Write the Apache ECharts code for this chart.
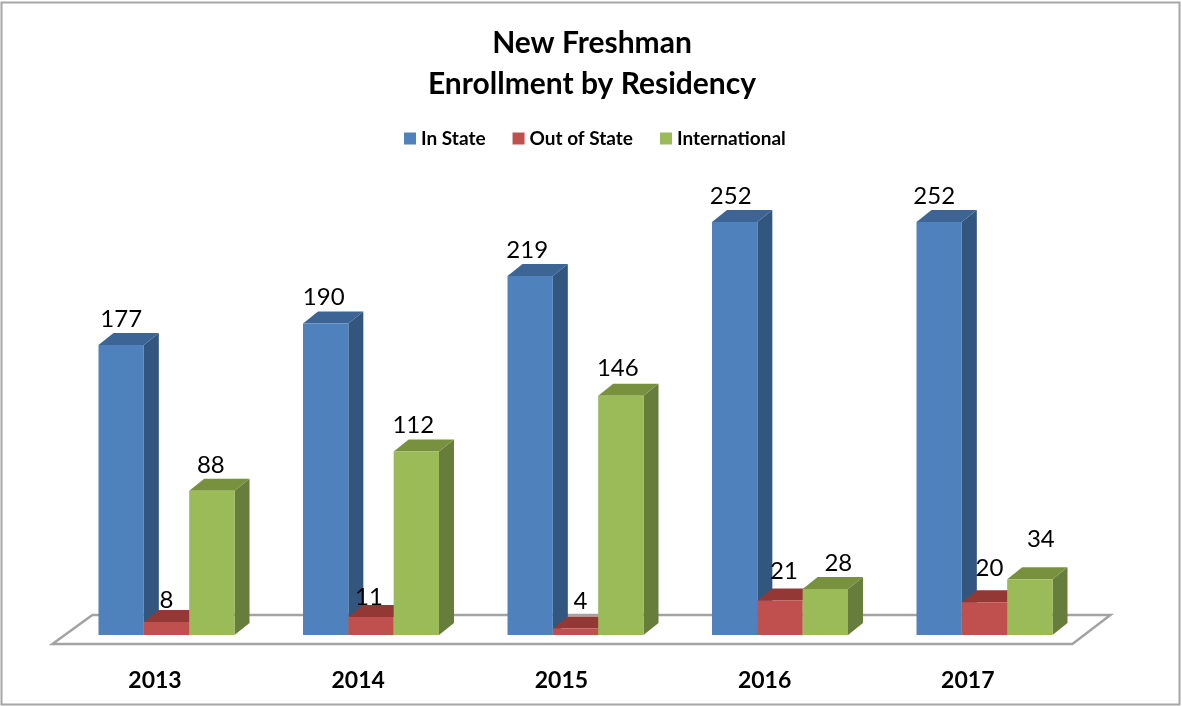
<!DOCTYPE html>
<html><head><meta charset="utf-8">
<style>html,body{margin:0;padding:0;background:#fff}#c{width:1182px;height:706px}</style>
<script src="https://cdn.jsdelivr.net/npm/echarts@6/dist/echarts.min.js"></script>
</head><body><div id="c"></div>
<script>
var years = ['2013','2014','2015','2016','2017'];
var inState = [177,190,219,252,252];
var outOfState = [8,11,4,21,20];
var international = [88,112,146,28,34];
var seriesNames = ['In State','Out of State','International'];

var FONT = 'Lato, "Open Sans", sans-serif';
var front = ['#4f81bd','#c0504d','#9bbb59'];
var side  = ['#33567f','#8a3a38','#677d3c'];
var topc  = ['#3c6596','#943836','#78913f'];
var DX = 15, DY = 12, GROUP = 136/204.5;
// hand nudges for labels [dx,dy] keyed "series-category"
var nudge = {'0-1':[-2,0],'0-2':[-3,0],'0-3':[-4,0],'0-4':[-5,0],
  '1-0':[0,4],'1-1':[-2,6],'1-2':[5,-1],'1-3':[4,-3],'1-4':[5,-8],
  '2-0':[-1,0],'2-1':[-3,0],'2-2':[-3,-1],'2-3':[13,0],'2-4':[11,-14]};

function barRender(si){
  return function(params, api){
    var c = api.value(0), v = api.value(1);
    var base = api.coord([c,0]), tip = api.coord([c,v]);
    var band = api.size([1,0])[0], w = band*GROUP/3;
    var x0 = base[0] - band*GROUP/2 + si*w, x1 = x0 + w;
    var yb = base[1], yt = tip[1];
    var n = nudge[si+'-'+c] || [0,0];
    return {type:'group', children:[
      {type:'polygon', shape:{points:[[x1,yb],[x1+DX,yb-DY],[x1+DX,yt-DY],[x1,yt]]}, style:{fill:side[si]}},
      {type:'polygon', shape:{points:[[x0,yt],[x0+DX,yt-DY],[x1+DX,yt-DY],[x1,yt]]}, style:{fill:topc[si]}},
      {type:'rect', shape:{x:x0,y:yt,width:w,height:yb-yt}, style:{fill:front[si]}},
      {type:'text', z2:10, style:{text:String(v), x:(x0+x1)/2+n[0], y:yt-DY-14+n[1], align:'center', verticalAlign:'middle',
        font:'24px '+FONT, fill:'#000'}}
    ]};
  };
}
function floorRender(params, api){
  var r = params.coordSys, b = r.y + r.height;
  return {type:'polygon', shape:{points:[[r.x-1,b],[r.x+39,b-29],[r.x+r.width+41,b-29],[r.x+r.width+3,b]]},
    style:{fill:'#fff',stroke:'#a3a3a3',lineWidth:2.5}};
}
function mk(name, vals, si){
  return {name:name, type:'custom', xAxisIndex:0, yAxisIndex:0, z:3+si, itemStyle:{color:front[si]},
    renderItem:barRender(si), encode:{x:0,y:1}, clip:false,
    data:vals.map(function(v,i){return [i,v];})};
}
var chart = echarts.init(document.getElementById('c'));
chart.setOption({
  animation:false,
  backgroundColor:'#fff',
  title:{text:'New Freshman\nEnrollment by Residency', left:587, top:18, textAlign:'center',
    textStyle:{fontFamily:FONT,fontSize:30,fontWeight:'bold',color:'#000',lineHeight:41}},
  legend:{data:seriesNames.map(function(n){return {name:n,icon:'rect'};}), left:399, top:124, itemWidth:12, itemHeight:12, itemGap:27, itemStyle:{borderWidth:0},
    textStyle:{fontFamily:FONT,fontSize:19,fontWeight:'bold',color:'#000',padding:[0,0,0,0]}},
  grid:[
    {left:64.25,top:143.3,width:1022.5,height:491.7},
    {left:53.4,top:600,width:1016,height:44}
  ],
  xAxis:[
    {type:'category',data:years,gridIndex:0,show:false},
    {type:'category',data:years,gridIndex:1,axisLine:{show:false},axisTick:{show:false},
      axisLabel:{margin:25,fontFamily:FONT,fontSize:23,fontWeight:'bold',color:'#000'}}
  ],
  yAxis:[
    {type:'value',min:0,max:300,gridIndex:0,show:false},
    {type:'value',min:0,max:1,gridIndex:1,show:false}
  ],
  graphic:[{type:'rect',silent:true,z:-1,shape:{x:1.5,y:2.5,width:1178,height:702},style:{fill:'none',stroke:'#a6a6a6',lineWidth:2}}],
  series:[
    {type:'custom',xAxisIndex:1,yAxisIndex:1,z:1,silent:true,renderItem:floorRender,clip:false,data:[[0,0]],encode:{x:0,y:1}},
    mk(seriesNames[0],inState,0),
    mk(seriesNames[1],outOfState,1),
    mk(seriesNames[2],international,2)
  ]
});
</script></body></html>
